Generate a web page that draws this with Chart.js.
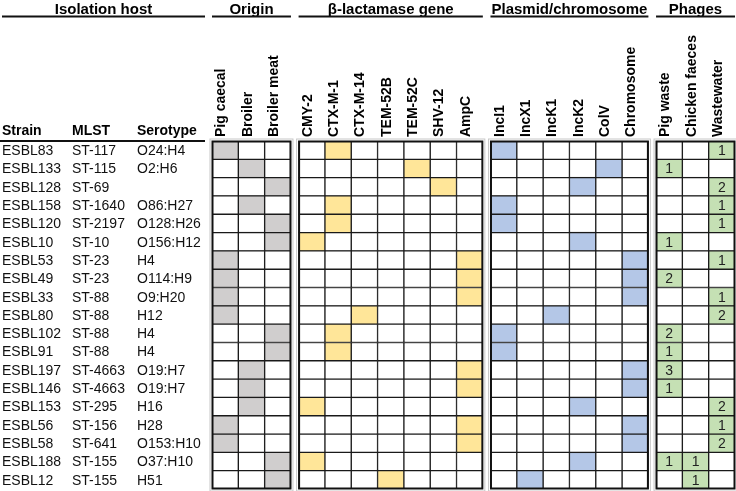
<!DOCTYPE html>
<html>
<head>
<meta charset="utf-8">
<script src="https://cdn.jsdelivr.net/npm/chart.js@4.4.0/dist/chart.umd.min.js"></script>
<style>
html, body { margin: 0; padding: 0; background: #fff; }
</style>
</head>
<body>
<canvas id="chart" width="736" height="491"></canvas>
<script>
// DATA
var strains = ['ESBL83','ESBL133','ESBL128','ESBL158','ESBL120','ESBL10','ESBL53','ESBL49','ESBL33','ESBL80',
    'ESBL102','ESBL91','ESBL197','ESBL146','ESBL153','ESBL56','ESBL58','ESBL188','ESBL12'];
var mlst = ['ST-117','ST-115','ST-69','ST-1640','ST-2197','ST-10','ST-23','ST-23','ST-88','ST-88',
    'ST-88','ST-88','ST-4663','ST-4663','ST-295','ST-156','ST-641','ST-155','ST-155'];
var serotypes = ['O24:H4','O2:H6','','O86:H27','O128:H26','O156:H12','H4','O114:H9','O9:H20','H12',
    'H4','H4','O19:H7','O19:H7','H16','H28','O153:H10','O37:H10','H51'];

var originCols = ['Pig caecal','Broiler','Broiler meat'];
var geneCols = ['CMY-2','CTX-M-1','CTX-M-14','TEM-52B','TEM-52C','SHV-12','AmpC'];
var plasmidCols = ['IncI1','IncX1','IncK1','IncK2','ColV','Chromosome'];
var phageCols = ['Pig waste','Chicken faeces','Wastewater'];

var origin = ['Pig caecal','Broiler','Broiler meat','Broiler','Broiler meat','Broiler meat','Pig caecal','Pig caecal','Pig caecal','Pig caecal',
    'Broiler meat','Broiler meat','Broiler','Broiler','Broiler','Pig caecal','Pig caecal','Broiler meat','Broiler meat'];
var gene = ['CTX-M-1','TEM-52C','SHV-12','CTX-M-1','CTX-M-1','CMY-2','AmpC','AmpC','AmpC','CTX-M-14',
    'CTX-M-1','CTX-M-1','AmpC','AmpC','CMY-2','AmpC','AmpC','CMY-2','TEM-52B'];
var plasmid = ['IncI1','ColV','IncK2','IncI1','IncI1','IncK2','Chromosome','Chromosome','Chromosome','IncK1',
    'IncI1','IncI1','Chromosome','Chromosome','IncK2','Chromosome','Chromosome','IncK2','IncX1'];
var pigWaste =      [0,1,0,0,0,1,0,2,0,0,2,1,3,1,0,0,0,1,0];
var chickenFaeces = [0,0,0,0,0,0,0,0,0,0,0,0,0,0,0,0,0,1,1];
var wastewater =    [1,0,2,1,1,0,1,0,1,2,0,0,0,0,2,1,2,0,0];

// LAYOUT OF BLOCKS
var GAP = 0.29;
var FONT = '"Liberation Sans", Arial, sans-serif';

var groups = [
    { title: 'Origin', cols: originCols, color: '#D0CECE', value: function(c, i){ return origin[i] === c ? 1 : 0; } },
    { title: 'β-lactamase gene', cols: geneCols, color: '#FFE699', value: function(c, i){ return gene[i] === c ? 1 : 0; } },
    { title: 'Plasmid/chromosome', cols: plasmidCols, color: '#B4C7E7', value: function(c, i){ return plasmid[i] === c ? 1 : 0; } },
    { title: 'Phages', cols: phageCols, color: '#C5E0B4', counts: true,
      value: function(c, i){ return [pigWaste, chickenFaeces, wastewater][phageCols.indexOf(c)][i]; } }
];

var columns = [];
var pos = 0;
groups.forEach(function(g, gi){
    g.start = pos;
    g.cols.forEach(function(c){
        columns.push({ name: c, start: pos, group: g });
        pos += 1;
    });
    g.end = pos;
    if (gi < groups.length - 1) pos += GAP;
});
var total = pos;

var datasets = columns.map(function(col){
    var vals = strains.map(function(s, i){ return col.group.value(col.name, i); });
    return {
        label: col.name,
        data: strains.map(function(){ return [col.start, col.start + 1]; }),
        backgroundColor: vals.map(function(v){ return v ? col.group.color : '#ffffff'; }),
        counts: col.group.counts ? vals : null,
        borderColor: '#1a1a1a',
        borderWidth: 1,
        borderSkipped: false,
        barPercentage: 1,
        categoryPercentage: 1,
        grouped: false
    };
});

var textPlugin = {
    id: 'tableText',
    afterDraw: function(chart){
        var ctx = chart.ctx;
        var xa = chart.scales.x;
        var ya = chart.scales.y;
        var area = chart.chartArea;
        ctx.save();

        // block outlines
        groups.forEach(function(g){
            var x0 = xa.getPixelForValue(g.start);
            var x1 = xa.getPixelForValue(g.end);
            ctx.strokeStyle = '#c8c8c8';
            ctx.lineWidth = 1;
            ctx.strokeRect(x0 - 2, area.top - 2, x1 - x0 + 4, area.bottom - area.top + 4);
            ctx.strokeStyle = '#111';
            ctx.lineWidth = 2;
            ctx.strokeRect(x0 + 0.5, area.top + 0.5, x1 - x0 - 1, area.bottom - area.top - 1);
        });

        // counts in phage cells
        ctx.fillStyle = '#222';
        ctx.font = '14px ' + FONT;
        ctx.textAlign = 'center';
        ctx.textBaseline = 'middle';
        chart.data.datasets.forEach(function(ds, di){
            if (!ds.counts) return;
            var meta = chart.getDatasetMeta(di);
            ds.counts.forEach(function(v, i){
                if (!v) return;
                var el = meta.data[i];
                ctx.fillText(String(v), (el.x + el.base) / 2, el.y + 1);
            });
        });

        // row labels
        ctx.fillStyle = '#111';
        ctx.textAlign = 'left';
        strains.forEach(function(s, i){
            var y = ya.getPixelForValue(i) + 1;
            ctx.fillText(s, 2, y);
            ctx.fillText(mlst[i], 72, y);
            ctx.fillText(serotypes[i], 137, y);
        });

        // row header
        ctx.font = 'bold 14px ' + FONT;
        ctx.textBaseline = 'alphabetic';
        ctx.fillStyle = '#000';
        ctx.fillText('Strain', 2, 135);
        ctx.fillText('MLST', 72, 135);
        ctx.fillText('Serotype', 137, 135);
        ctx.strokeStyle = '#111';
        ctx.lineWidth = 2;
        ctx.beginPath();
        ctx.moveTo(0, area.top);
        ctx.lineTo(205, area.top);
        ctx.stroke();

        // group titles with underline
        ctx.font = 'bold 15px ' + FONT;
        ctx.textAlign = 'center';
        var titles = [{ title: 'Isolation host', x0: 2, x1: 205 }].concat(groups.map(function(g){
            return { title: g.title, x0: xa.getPixelForValue(g.start), x1: xa.getPixelForValue(g.end) };
        }));
        titles.forEach(function(t){
            ctx.fillText(t.title, (t.x0 + t.x1) / 2, 14);
            ctx.beginPath();
            ctx.moveTo(t.x0, 16.5);
            ctx.lineTo(t.x1, 16.5);
            ctx.stroke();
        });
        ctx.restore();
    }
};

var centers = columns.map(function(c){ return c.start + 0.5; });

new Chart(document.getElementById('chart').getContext('2d'), {
    type: 'bar',
    data: {
        labels: strains,
        datasets: datasets
    },
    options: {
        indexAxis: 'y',
        responsive: false,
        animation: false,
        layout: {
            padding: { left: 212, right: 1, top: 0, bottom: 2 }
        },
        scales: {
            x: {
                type: 'linear',
                position: 'top',
                min: 0,
                max: total,
                grid: { display: false, drawTicks: false },
                border: { display: false },
                afterBuildTicks: function(scale){
                    scale.ticks = centers.map(function(v){ return { value: v }; });
                },
                afterFit: function(scale){
                    scale.height = 141;
                },
                ticks: {
                    autoSkip: false,
                    minRotation: 90,
                    maxRotation: 90,
                    padding: 4,
                    labelOffset: 13,
                    color: '#000',
                    font: { family: FONT, size: 14, weight: 'bold' },
                    callback: function(value, index){
                        return columns[index].name;
                    }
                }
            },
            y: {
                display: false
            }
        },
        plugins: {
            legend: { display: false },
            tooltip: { enabled: false }
        }
    },
    plugins: [textPlugin]
});
</script>
</body>
</html>
